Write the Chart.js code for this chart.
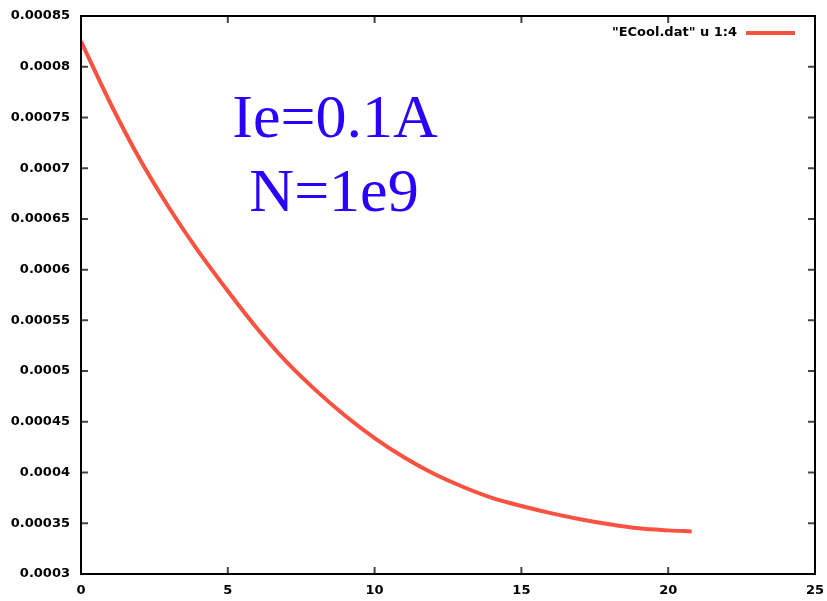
<!DOCTYPE html>
<html>
<head>
<meta charset="utf-8">
<script src="https://cdn.jsdelivr.net/npm/chart.js@4.4.1/dist/chart.umd.min.js"></script>
<style>
  html, body { margin: 0; padding: 0; background: #fff; }
  #wrap { width: 827px; height: 601px; position: relative; }
</style>
</head>
<body>
<div id="wrap"><canvas id="c" width="827" height="601"></canvas></div>
<script>
// ---- data ----
const seriesLabel = '"ECool.dat" u 1:4';
const xValues = [0, 1, 2, 3, 4, 5, 6, 7, 8, 9, 10, 11, 12, 13, 14, 15, 16, 17, 18, 19, 20, 20.8];
const yValues = [0.000825, 0.000764, 0.000709, 0.000661, 0.000618, 0.000579, 0.000542, 0.000509,
                 0.000481, 0.000456, 0.000434, 0.000415, 0.000399, 0.000386, 0.000375, 0.000367,
                 0.000360, 0.000354, 0.000349, 0.000345, 0.000343, 0.000342];
const annotationLines = ['Ie=0.1A', 'N=1e9'];
const xTickLabels = ['0', '5', '10', '15', '20', '25'];
const yTickLabels = ['0.0003', '0.00035', '0.0004', '0.00045', '0.0005', '0.00055',
                     '0.0006', '0.00065', '0.0007', '0.00075', '0.0008', '0.00085'];

const points = xValues.map((x, i) => ({ x: x, y: yValues[i] }));
const LINE_COLOR = '#fa5240';

const framePlugin = {
  id: 'frame',
  afterDraw(chart) {
    const ctx = chart.ctx;
    const a = chart.chartArea;
    const xs = chart.scales.x, ys = chart.scales.y;
    ctx.save();
    // inward ticks, mirrored
    ctx.strokeStyle = '#444';
    ctx.lineWidth = 2;
    const tl = 7;
    xs.ticks.forEach(t => {
      const px = xs.getPixelForValue(t.value);
      ctx.beginPath();
      ctx.moveTo(px, a.bottom); ctx.lineTo(px, a.bottom - tl);
      ctx.moveTo(px, a.top); ctx.lineTo(px, a.top + tl);
      ctx.stroke();
    });
    ys.ticks.forEach(t => {
      const py = ys.getPixelForValue(t.value);
      ctx.beginPath();
      ctx.moveTo(a.left, py); ctx.lineTo(a.left + tl, py);
      ctx.moveTo(a.right, py); ctx.lineTo(a.right - tl, py);
      ctx.stroke();
    });
    // frame
    ctx.strokeStyle = '#000';
    ctx.lineWidth = 2;
    ctx.strokeRect(a.left, a.top, a.right - a.left, a.bottom - a.top);

    // key (legend) inside top-right
    ctx.font = 'bold 13px "DejaVu Sans"';
    ctx.fillStyle = '#000';
    ctx.textAlign = 'right';
    ctx.textBaseline = 'middle';
    ctx.fillText(seriesLabel, 737, 33);
    ctx.strokeStyle = LINE_COLOR;
    ctx.lineWidth = 4;
    ctx.beginPath();
    ctx.moveTo(746, 33); ctx.lineTo(795, 33);
    ctx.stroke();

    // annotation text
    ctx.fillStyle = '#2a00ff';
    ctx.font = '62px "Liberation Serif"';
    ctx.textAlign = 'center';
    ctx.textBaseline = 'alphabetic';
    ctx.fillText(annotationLines[0], 335, 137);
    ctx.fillText(annotationLines[1], 334, 211);
    ctx.restore();
  }
};

new Chart(document.getElementById('c'), {
  type: 'scatter',
  data: {
    datasets: [{
      label: seriesLabel,
      data: points,
      showLine: true,
      borderColor: LINE_COLOR,
      backgroundColor: LINE_COLOR,
      borderWidth: 4,
      pointRadius: 0,
      cubicInterpolationMode: 'monotone',
      fill: false
    }]
  },
  options: {
    responsive: false,
    animation: false,
    layout: { padding: { top: 16, right: 12, left: 0, bottom: 0 } },
    plugins: { legend: { display: false }, title: { display: false }, tooltip: { enabled: false } },
    scales: {
      x: {
        type: 'linear',
        min: 0, max: 25,
        afterBuildTicks(scale) { scale.ticks = xTickLabels.map(v => ({ value: parseFloat(v) })); },
        afterFit(scale) { scale.height = 27; scale.paddingLeft = 0; scale.paddingRight = 0; },
        grid: { display: false, drawTicks: false },
        border: { display: false },
        ticks: {
          color: '#000', font: { family: 'DejaVu Sans', weight: 'bold', size: 13 }, padding: 9,
          maxRotation: 0,
          callback: (v) => { const i = xTickLabels.findIndex(s => parseFloat(s) === v); return i >= 0 ? xTickLabels[i] : ''; }
        }
      },
      y: {
        type: 'linear',
        min: 0.0003, max: 0.00085,
        afterBuildTicks(scale) { scale.ticks = yTickLabels.map(v => ({ value: parseFloat(v) })); },
        afterFit(scale) { scale.width = 81; scale.paddingTop = 0; scale.paddingBottom = 0; },
        grid: { display: false, drawTicks: false },
        border: { display: false },
        ticks: {
          color: '#000', font: { family: 'DejaVu Sans', weight: 'bold', size: 13 }, padding: 11,
          callback: (v) => { const i = yTickLabels.findIndex(s => Math.abs(parseFloat(s) - v) < 1e-10); return i >= 0 ? yTickLabels[i] : ''; }
        }
      }
    }
  },
  plugins: [framePlugin]
});
</script>
</body>
</html>
